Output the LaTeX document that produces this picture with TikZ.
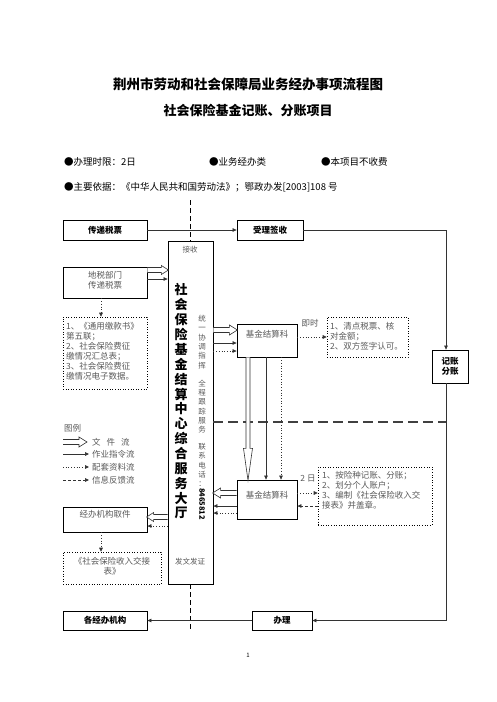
\documentclass[tikz,border=0pt]{standalone}
\usepackage{fontspec}
\setmainfont{Noto Sans CJK SC}
\usetikzlibrary{arrows.meta,calc}
\definecolor{tg}{gray}{0.35}
\definecolor{ln}{gray}{0.2}
\begin{document}
\begin{tikzpicture}[x=1pt,y=-1pt,
  every node/.style={inner sep=0pt},
  box/.style={draw, line width=0.8pt, fill=white},
  dbox/.style={draw, dotted, line width=0.6pt},
  lbl/.style={font=\fontsize{8.5}{10}\selectfont, text=tg},
  blbl/.style={font=\bfseries\fontsize{8.5}{10}\selectfont},
  sarr/.style={draw=ln, line width=0.7pt, -{Triangle[length=4pt,width=3.6pt]}},
  darr/.style={draw=ln, dotted, line width=0.7pt, -{Triangle[length=4pt,width=3.6pt]}},
  farr/.style={draw=ln, dash pattern=on 3pt off 2pt, line width=0.7pt, -{Triangle[length=4pt,width=3.6pt]}},
  vdash/.style={draw=black, line width=1.2pt, dash pattern=on 5pt off 3pt},
  hdash/.style={draw=black!75, line width=1.5pt, dash pattern=on 10pt off 5pt},
  pics/hollow/.style n args={4}{code={
    \draw[line width=0.6pt, fill=white, draw=ln] (0,-#3) -- ({#1-#2},-#3) -- ({#1-#2},-#4) -- (#1,0) -- ({#1-#2},#4) -- ({#1-#2},#3) -- (0,#3);}}
]
\useasboundingbox (0,0) rectangle (496,702);

% titles
\node[font=\bfseries\fontsize{13.5}{15}\selectfont] (t1) at (248,84) {荆州市劳动和社会保障局业务经办事项流程图};
\node[font=\bfseries\fontsize{13}{15}\selectfont] (t2) at (248,110) {社会保险基金记账、分账项目};

% info
\node[font=\fontsize{9.5}{11}\selectfont, anchor=west] (i1) at (64,162) {●办理时限：2日};
\node[font=\fontsize{9.5}{11}\selectfont, anchor=west] (i2) at (209,162) {●业务经办类};
\node[font=\fontsize{9.5}{11}\selectfont, anchor=west] (i3) at (321,162) {●本项目不收费};
\node[font=\fontsize{9.5}{11}\selectfont, anchor=west] (i4) at (64,187) {●主要依据：《中华人民共和国劳动法》；鄂政办发[2003]108 号};

% dashed vertical line
\node[box, minimum width=45, minimum height=343] (hall) at (190.5,412.5) {};
\coordinate (vtop) at (hall.north |- 0,200);
\coordinate (vbot) at (hall.south |- 0,629);
\draw[vdash] (vtop) -- (hall.north);
\draw[vdash] (hall.south) -- (vbot);

% top row
\node[box, blbl, minimum width=84, minimum height=20] (chuandi) at (105,230) {传递税票};
\node[box, blbl, minimum width=66, minimum height=20] (shouli) at (270,230) {受理签收};
\node[box, blbl, minimum width=36, minimum height=33, align=center] (jizhang) at (450,366.5) {记账\\分账};
\node[box, blbl, minimum width=60, minimum height=19] (banli) at (282,620.5) {办理};
\node[box, blbl, minimum width=84, minimum height=19] (gejing) at (105,620.5) {各经办机构};

\draw[sarr] (chuandi) -- (shouli);
\draw[sarr] (shouli.east) -| ([xshift=-4pt]jizhang.north);
\draw[sarr] ([xshift=-4pt]jizhang.south) |- (banli.east);
\draw[sarr] (banli) -- (gejing);

% hall texts
\node[lbl, font=\fontsize{7.5}{9}\selectfont] (jieshou) at (190,250) {接收};
\node[font=\bfseries\fontsize{13}{14.87}\selectfont, align=center] (hallt) at (181,401.5)
  {社\\会\\保\\险\\基\\金\\结\\算\\中\\心\\综\\合\\服\\务\\大\\厅};
\node[lbl, font=\fontsize{7.5}{9.3}\selectfont, align=center] (g1) at (202,342) {统\\一\\协\\调\\指\\挥};
\node[lbl, font=\fontsize{7.5}{9.3}\selectfont, align=center] (g2) at (202,406.5) {全\\程\\跟\\踪\\服\\务};
\node[lbl, font=\fontsize{7.5}{9.3}\selectfont, align=center] (g3) at (202,465) {联\\系\\电\\话\\：};
\node[font=\bfseries\fontsize{7.5}{9}\selectfont] (g4) at (202,504) {\rotatebox{-90}{8465812}};
\node[lbl, font=\fontsize{7.5}{9}\selectfont] (fawen) at (190,562) {发文发证};

% left column
\node[box, minimum width=84, minimum height=31] (dishui) at (105,282.5) {};
\node[lbl, align=center] (dishuit) at (105,280) {地税部门\\传递税票};
\node[dbox, minimum width=84, minimum height=72] (dot1) at (105,353) {};
\node[lbl, align=left, anchor=north west] (dot1t) at (66,322.5)
  {1、《通用缴款书》\\第五联；\\2、社会保险费征\\缴情况汇总表；\\3、社会保险费征\\缴情况电子数据。};
\node[box, minimum width=84, minimum height=25] (jiban) at (105,519.5) {};
\node[lbl] (jibant) at (105,514) {经办机构取件};
\node[dbox, minimum width=98, minimum height=32] (dot2) at (112,568) {};
\node[lbl, align=center] (dot2t) at (112,566) {《社会保险收入交接\\表》};

\pic at (dishui.east |- 0,270) {hollow={21}{7}{2.5}{4.5}};
\draw[sarr] (dishui.east |- 0,279) -- (hall.west |- 0,279);
\draw[darr] (101,0 |- dishui.south) -- (101,0 |- dot1.north);
\pic[rotate=180] at (hall.west |- 0,517) {hollow={21}{7}{2.5}{4.5}};
\draw[darr] (hall.west |- 0,526) -- (jiban.east |- 0,526);
\draw[darr] (101,0 |- jiban.south) -- (101,0 |- dot2.north);

% legend
\node[lbl, anchor=west] (tuli) at (64,428) {图例};
\coordinate (lg1) at (63,442); \coordinate (lg2) at (63,454); \coordinate (lg2e) at (89,454);
\coordinate (lg3) at (63,467); \coordinate (lg3e) at (89,467);
\coordinate (lg4) at (63,480); \coordinate (lg4e) at (89,480);
\pic at (lg1) {hollow={24}{8}{2.5}{5}};
\draw[sarr] (lg2) -- (lg2e);
\draw[darr] (lg3) -- (lg3e);
\draw[farr] (lg4) -- (lg4e);
\node[lbl, anchor=west] (lt1) at (92,442) {文\hspace{6pt}件\hspace{6pt}流};
\node[lbl, anchor=west] (lt2) at (92,454) {作业指令流};
\node[lbl, anchor=west] (lt3) at (92,467) {配套资料流};
\node[lbl, anchor=west] (lt4) at (92,480) {信息反馈流};

% right part
\coordinate (hend) at (446,422);
\draw[hdash] (hall.east |- hend) -- (hend);

\node[box, minimum width=60, minimum height=33] (jj1) at (267,340.5) {};
\node[lbl] (jj1t) at (267,334) {基金结算科};
\node[dbox, minimum width=81, minimum height=40] (dot3) at (367.5,337) {};
\node[lbl, align=left, anchor=north west] (dot3t) at (330,322.5) {1、清点税票、核\\对金额；\\2、双方签字认可。};
\node[lbl] (jishi) at (310,323) {即时};

\node[box, minimum width=60, minimum height=39] (jj2) at (267,499.5) {};
\node[lbl] (jj2t) at (267,495) {基金结算科};
\node[dbox, minimum width=114, minimum height=58] (dot4) at (375,496) {};
\node[lbl, align=left, anchor=north west] (dot4t) at (322,471.5) {1、按险种记账、分账；\\2、划分个人账户；\\3、编制《社会保险收入交\\接表》并盖章。};
\node[lbl] (erri) at (308,479) {2 日};

\pic at (hall.east |- 0,330) {hollow={24}{8}{2.5}{5}};
\draw[sarr] (hall.east |- 0,343) -- (jj1.west |- 0,343);
\draw[darr] (hall.east |- 0,351) -- (jj1.west |- 0,351);
\pic[rotate=-90] at (248,0 |- jj1.south) {hollow={123}{32}{2}{4.5}};
\draw[sarr] (266,0 |- jj1.south) -- (266,0 |- jj2.north);
\draw[darr] (281,0 |- jj1.south) -- (281,0 |- jj2.north);
\pic[rotate=180] at (jj2.west |- 0,493) {hollow={24}{8}{2.5}{5}};
\draw[sarr] (jj2.west |- 0,506) -- (hall.east |- 0,506);
\draw[darr] (jj2.west |- 0,513) -- (hall.east |- 0,513);
\draw[darr] (jj1.east |- 0,337) -- (dot3.west |- 0,337);
\draw[darr] (jj2.east |- 0,493) -- (dot4.west |- 0,493);
\draw[farr] (dot4.west |- 0,506) -- (jj2.east |- 0,506);

\node[font=\fontsize{6}{7}\selectfont] (pg) at (248,655) {1};
\end{tikzpicture}
\end{document}
